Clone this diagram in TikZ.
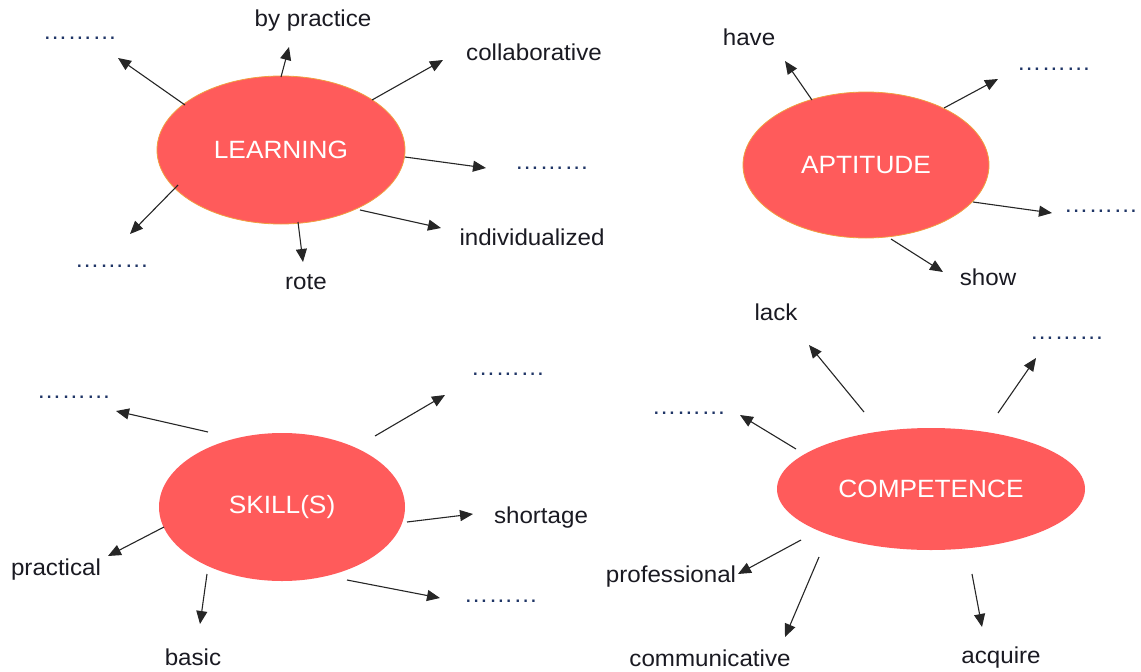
\documentclass[tikz,border=0pt]{standalone}
\usepackage{fontspec}
\setmainfont[FakeStretch=1.05]{Liberation Sans}
\usetikzlibrary{shapes.geometric,arrows.meta}
\definecolor{blobred}{HTML}{FF5B5B}
\definecolor{blobedge}{HTML}{F0A040}
\definecolor{labelink}{HTML}{1A1A22}
\definecolor{dotink}{HTML}{1F3566}
\tikzset{
  blob/.style={ellipse, fill=blobred, inner sep=0pt, text=white, font=\fontsize{25}{29}\selectfont},
  blobedged/.style={blob, draw=blobedge, line width=0.8pt},
  lbl/.style={inner sep=0pt, text=labelink, font=\fontsize{23}{27}\selectfont},
  dots/.style={inner sep=0pt, text=dotink, font=\fontsize{23.5}{27}\selectfont},
  arr/.style={draw=black!85, line width=1.1pt, -{Triangle[length=13pt,width=11pt]}}
}
\newcommand{\dts}{………}
\begin{document}
\begin{tikzpicture}[x=1pt,y=-1pt]
\useasboundingbox (0,0) rectangle (1141,672);

% ---------- LEARNING ----------
\node[blobedged, minimum width=248pt, minimum height=148pt] (learn) at (281,150) {LEARNING};
\node[dots] (l1) at (80,38) {\dts};
\node[lbl] (l2) at (313,21) {by practice};
\node[lbl] (l3) at (534,52) {collaborative};
\node[dots] (l4) at (552,168) {\dts};
\node[lbl] (l5) at (532,237) {individualized};
\node[lbl] (l6) at (306,282) {rote};
\node[dots] (l7) at (112,266) {\dts};
\coordinate (ls1) at (185,105); \coordinate (le1) at (118,58);
\coordinate (ls2) at (281,77);  \coordinate (le2) at (289,47);
\coordinate (ls3) at (372,100); \coordinate (le3) at (443,60);
\coordinate (ls4) at (405,157); \coordinate (le4) at (486,168);
\coordinate (ls5) at (360,210); \coordinate (le5) at (441,228);
\coordinate (ls6) at (298,222); \coordinate (le6) at (303,262);
\coordinate (ls7) at (178,185); \coordinate (le7) at (130,234);
\foreach \i in {1,...,7} {\draw[arr] (ls\i) -- (le\i);}

% ---------- APTITUDE ----------
\node[blobedged, minimum width=246pt, minimum height=146pt] (apt) at (866,165) {APTITUDE};
\node[lbl] (a1) at (749,37) {have};
\node[dots] (a2) at (1054,69) {\dts};
\node[dots] (a3) at (1101,211) {\dts};
\node[lbl] (a4) at (988,277) {show};
\coordinate (as1) at (812,100); \coordinate (ae1) at (785,61);
\coordinate (as2) at (944,108); \coordinate (ae2) at (998,79);
\coordinate (as3) at (973,202); \coordinate (ae3) at (1052,213);
\coordinate (as4) at (891,239); \coordinate (ae4) at (943,272);
\foreach \i in {1,...,4} {\draw[arr] (as\i) -- (ae\i);}

% ---------- SKILL(S) ----------
\node[blob, minimum width=246pt, minimum height=148pt] (skill) at (282,507) {SKILL(S)};
\node[dots] (s1) at (74,397) {\dts};
\node[dots] (s2) at (508,374) {\dts};
\node[lbl] (s3) at (541,518) {shortage};
\node[dots] (s4) at (501,601) {\dts};
\node[lbl] (s5) at (193,657) {basic};
\node[lbl] (s6) at (56,570) {practical};
\coordinate (ss1) at (208,432); \coordinate (se1) at (116,411);
\coordinate (ss2) at (375,436); \coordinate (se2) at (445,395);
\coordinate (ss3) at (407,522); \coordinate (se3) at (473,514);
\coordinate (ss4) at (347,580); \coordinate (se4) at (440,598);
\coordinate (ss5) at (207,574); \coordinate (se5) at (200,624);
\coordinate (ss6) at (164,527); \coordinate (se6) at (108,556);
\foreach \i in {1,...,6} {\draw[arr] (ss\i) -- (se\i);}

% ---------- COMPETENCE ----------
\node[blob, minimum width=308pt, minimum height=122pt] (comp) at (931,489) {COMPETENCE};
\node[lbl] (c1) at (776,312) {lack};
\node[dots] (c2) at (1067,338) {\dts};
\node[dots] (c3) at (689,413) {\dts};
\node[lbl] (c4) at (671,577) {professional};
\node[lbl] (c5) at (710,658) {communicative};
\node[lbl] (c6) at (1001,658) {acquire};
\coordinate (cs1) at (864,412); \coordinate (ce1) at (809,345);
\coordinate (cs2) at (998,413); \coordinate (ce2) at (1036,358);
\coordinate (cs3) at (796,449); \coordinate (ce3) at (740,415);
\coordinate (cs4) at (801,540); \coordinate (ce4) at (738,574);
\coordinate (cs5) at (819,557); \coordinate (ce5) at (785,637);
\coordinate (cs6) at (972,574); \coordinate (ce6) at (982,627);
\foreach \i in {1,...,6} {\draw[arr] (cs\i) -- (ce\i);}
\end{tikzpicture}
\end{document}
